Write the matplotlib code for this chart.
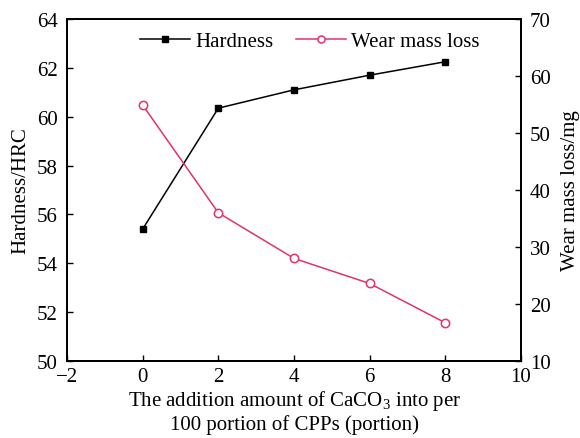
import matplotlib
matplotlib.use("Agg")
import matplotlib.pyplot as plt

plt.rcParams['font.family'] = ['Liberation Serif', 'DejaVu Serif']
plt.rcParams['mathtext.fontset'] = 'custom'
plt.rcParams['mathtext.rm'] = 'Liberation Serif'

x = [0, 2, 4, 6, 8]
hardness = [55.4, 60.35, 61.1, 61.7, 62.25]
wear = [54.9, 36.0, 28.0, 23.6, 16.7]
xticks = [-2, 0, 2, 4, 6, 8, 10]
xticklabels = ['\u22122', '0', '2', '4', '6', '8', '10']
yticks_left = [50, 52, 54, 56, 58, 60, 62, 64]
yticks_right = [10, 20, 30, 40, 50, 60, 70]

W, H = 580, 439
fig = plt.figure(figsize=(W / 100, H / 100), dpi=100)
L, R, T, B = 67, 521, 20, 362
ax = fig.add_axes([L / W, 1 - B / H, (R - L) / W, (B - T) / H])
ax2 = ax.twinx()

pink = '#e2336a'
l1, = ax.plot(x, hardness, color='black', marker='s', markersize=5, lw=1.1, label='Hardness')
l2, = ax2.plot(x, wear, color=pink, marker='o', markersize=6, lw=1.1,
               markerfacecolor='white', markeredgecolor=pink, markeredgewidth=1.1,
               label='Wear mass loss')

ax.set_xlim(-2, 10)
ax.set_ylim(50, 64)
ax2.set_ylim(10, 70)
ax.set_xticks(xticks)
ax.set_xticklabels(xticklabels)
ax.set_yticks(yticks_left)
ax2.set_yticks(yticks_right)

fs = 15
ax.tick_params(axis='y', direction='in', labelsize=fs, length=4, width=1, pad=6.5)
ax.tick_params(axis='x', direction='in', labelsize=fs, length=4, width=1, pad=4.5)
ax2.tick_params(axis='y', direction='in', labelsize=fs, length=4, width=1, pad=6.5)
for a in (ax, ax2):
    for s in a.spines.values():
        s.set_linewidth(1.4)

fig.text(21 / W, 1 - 191 / H, 'Hardness/HRC', rotation=90, ha='center', va='center', fontsize=fs)
fig.text(570 / W, 1 - 191 / H, 'Wear mass loss/mg', rotation=90, ha='center', va='center', fontsize=fs)
fig.text(295 / W, 1 - 389 / H,
         'The addition amount of CaCO$_3$ into per\n100 portion of CPPs (portion)',
         ha='center', va='top', fontsize=fs, linespacing=1.15, multialignment='center')

fig.legend([l1, l2], ['Hardness', 'Wear mass loss'], loc='center', ncol=2,
           frameon=False, fontsize=fs, handlelength=2.4, columnspacing=1.1,
           handletextpad=0.25, markerscale=0.85,
           bbox_to_anchor=(310 / W, 1 - 42 / H))

fig.savefig('out.png', dpi=100)
